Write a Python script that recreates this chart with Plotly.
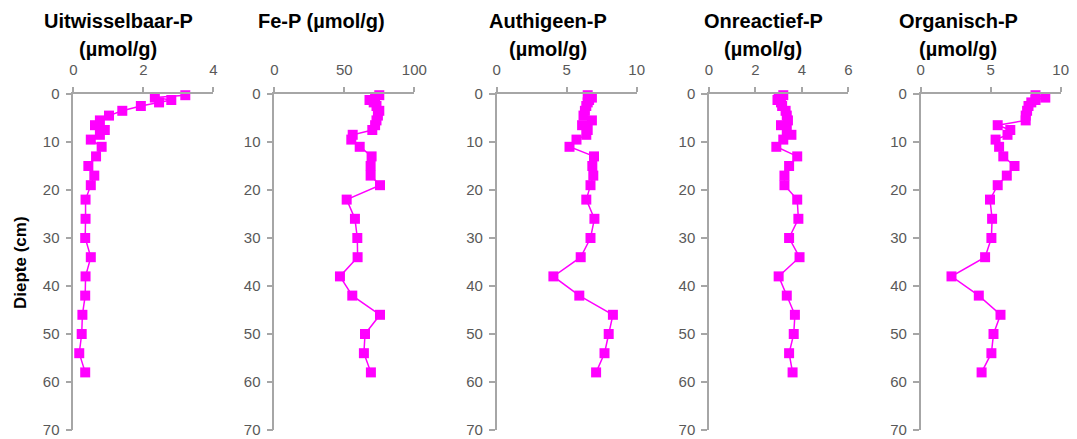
import plotly.graph_objects as go

W, H = 1077, 439

depth = [0.25, 0.75, 1.25, 1.75, 2.5, 3.5, 4.5, 5.5, 6.5, 7.5, 8.5, 9.5, 11, 13, 15, 17, 19,
         22, 26, 30, 34, 38, 42, 46, 50, 54, 58]
uitwisselbaar = [3.2, 2.33, 2.8, 2.45, 1.93, 1.40, 1.02, 0.76, 0.62, 0.9, 0.76, 0.5, 0.81, 0.65,
                 0.43, 0.6, 0.5, 0.35, 0.35, 0.34, 0.5, 0.35, 0.34, 0.26, 0.24, 0.17, 0.34]
fe_p = [75, 72, 68, 71, 73, 75, 74, 73, 72, 70, 56, 55, 61, 69.5, 68.8, 68.8, 75.5, 51.7, 57.6,
        59.3, 59.5, 46.9, 55.7, 75.5, 64.8, 64, 69]
authigeen = [6.5, 6.8, 6.6, 6.5, 6.4, 6.3, 6.2, 6.8, 6.1, 6.5, 6.4, 5.7, 5.2, 6.95, 6.83, 6.9,
             6.7, 6.4, 6.98, 6.7, 6.0, 4.05, 5.9, 8.3, 8.0, 7.7, 7.1]
onreactief = [3.2, 3.0, 2.95, 3.1, 3.15, 3.3, 3.35, 3.4, 3.1, 3.35, 3.55, 3.2, 2.9, 3.8, 3.45,
              3.25, 3.25, 3.8, 3.85, 3.45, 3.9, 3.0, 3.35, 3.7, 3.65, 3.45, 3.6]
organisch = [8.2, 8.9, 8.2, 7.9, 7.7, 7.6, 7.5, 7.5, 5.5, 6.4, 6.2, 5.35, 5.6, 5.9, 6.7, 6.15,
             5.5, 4.95, 5.1, 5.05, 4.6, 2.2, 4.15, 5.7, 5.2, 5.05, 4.35]

series = [uitwisselbaar, fe_p, authigeen, onreactief, organisch]
x_ranges = [[0, 4], [0, 100], [0, 10], [0, 6], [0, 10]]
x_dticks = [2, 50, 5, 2, 5]
titles = [["Uitwisselbaar-P", "(µmol/g)"], ["Fe-P (µmol/g)"], ["Authigeen-P", "(µmol/g)"],
          ["Onreactief-P", "(µmol/g)"], ["Organisch-P", "(µmol/g)"]]
title_cx = [118, 321, 548, 763, 958]
y_ticks = [0, 10, 20, 30, 40, 50, 60, 70]

# plot area pixel positions (left, right)
px_left = [73.3, 274.3, 496.7, 709.0, 920.7]
px_right = [213.3, 414.3, 636.7, 848.3, 1060.7]
top_px, bot_px = 94, 430

MAG = "#FF00FF"
AX = "#a6a6a6"
TXT = "#595959"
FONT = "Liberation Sans, Arial, sans-serif"

fig = go.Figure()
layout = dict(width=W, height=H, autosize=False, margin=dict(l=0, r=0, t=0, b=0, pad=0),
              plot_bgcolor="white", paper_bgcolor="white", showlegend=False)
annotations = []
for i in range(5):
    s = "" if i == 0 else str(i + 1)
    fig.add_trace(go.Scatter(x=series[i], y=depth, mode="lines+markers",
                             xaxis="x" + s, yaxis="y" + s,
                             line=dict(color=MAG, width=1.5),
                             marker=dict(symbol="square", size=10, color=MAG),
                             cliponaxis=False))
    layout["xaxis" + s] = dict(domain=[px_left[i] / W, px_right[i] / W], anchor="y" + s,
                               side="top", range=x_ranges[i], dtick=x_dticks[i],
                               showgrid=False, zeroline=False, showline=True,
                               linecolor=AX, linewidth=1.5, ticks="outside", ticklen=5,
                               tickcolor=AX, tickwidth=1.5, ticklabelstandoff=6,
                               automargin=False,
                               tickfont=dict(family=FONT, size=15, color=TXT))
    layout["yaxis" + s] = dict(domain=[1 - bot_px / H, 1 - top_px / H], anchor="x" + s,
                               range=[70, 0], tickvals=y_ticks,
                               showgrid=False, zeroline=False, showline=True,
                               linecolor=AX, linewidth=1.5, ticks="outside", ticklen=6,
                               tickcolor=AX, tickwidth=1.5, ticklabelstandoff=3,
                               automargin=False,
                               tickfont=dict(family=FONT, size=15, color=TXT))
    for j, line in enumerate(titles[i]):
        annotations.append(dict(text="<b>" + line + "</b>", xref="paper", yref="paper",
                                x=title_cx[i] / W, y=1 - (21 + 28 * j) / H,
                                xanchor="center", yanchor="middle", showarrow=False,
                                font=dict(family=FONT, size=20, color="#000000")))

annotations.append(dict(text="<b>Diepte (cm)</b>", xref="paper", yref="paper",
                        x=20 / W, y=1 - 262 / H, textangle=-90, xanchor="center",
                        yanchor="middle", showarrow=False,
                        font=dict(family=FONT, size=17, color="#000000")))
layout["annotations"] = annotations
fig.update_layout(**layout)
fig.write_html("out.html", config={"responsive": False})
